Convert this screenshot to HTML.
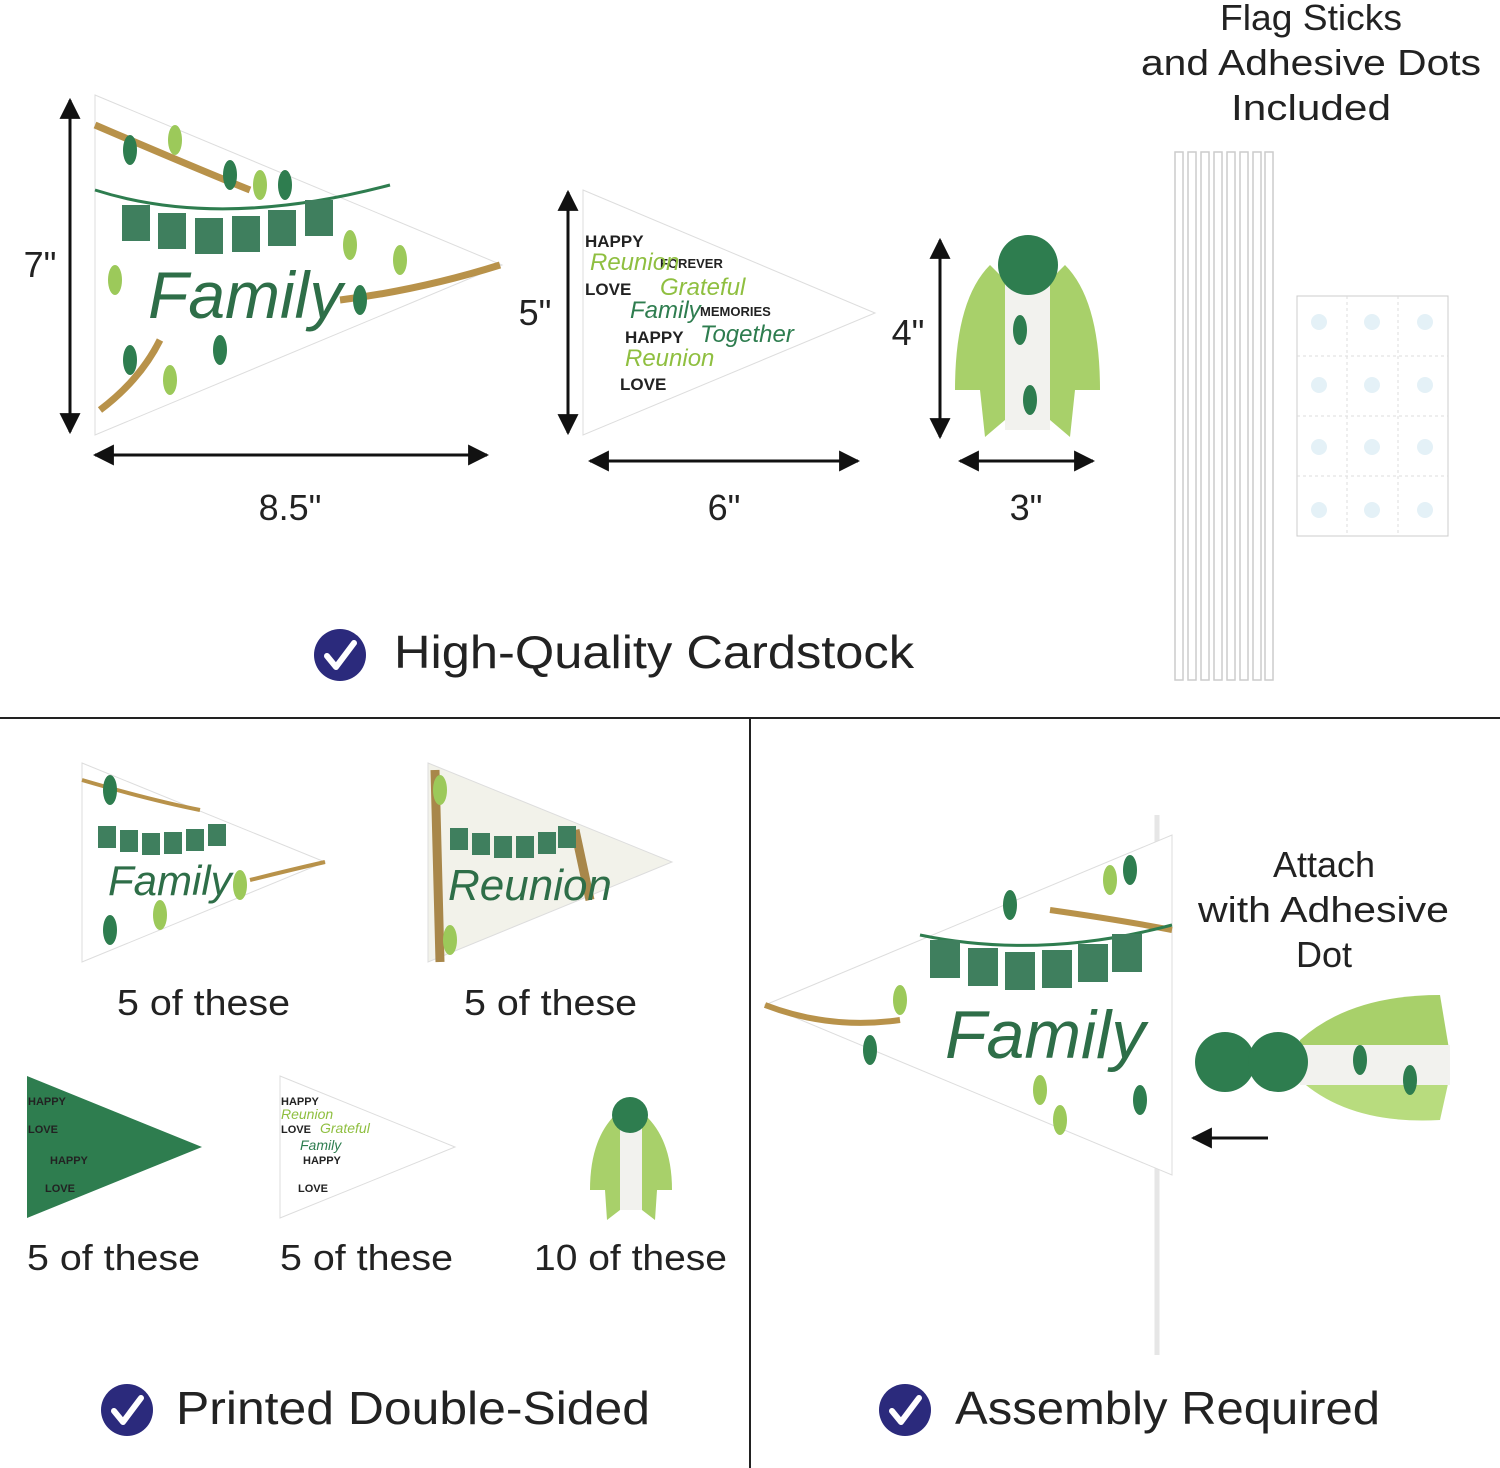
<!DOCTYPE html>
<html><head><meta charset="utf-8"><style>
html,body{margin:0;padding:0;background:#fff}
svg{display:block}
text{font-family:"Liberation Sans",sans-serif;fill:#222}
</style></head><body>
<svg width="1500" height="1468" viewBox="0 0 1500 1468" xmlns="http://www.w3.org/2000/svg">
<defs>
<marker id="ah" viewBox="0 0 10 10" refX="9" refY="5" markerWidth="7" markerHeight="7" orient="auto-start-reverse"><path d="M0,0 L10,5 L0,10 z" fill="#111"/></marker>
<g id="chk"><circle r="26" fill="#2b2a7c"/><path d="M-13,1 L-4,12 L14,-12" stroke="#fff" stroke-width="6" fill="none" stroke-linecap="round" stroke-linejoin="round"/></g>
<g id="leaf"><ellipse rx="7" ry="15" fill="#2e7d4f"/></g>
<g id="leaf2"><ellipse rx="7" ry="15" fill="#9cc95a"/></g>
</defs>
<rect width="1500" height="1468" fill="#fff"/>

<line x1="0" y1="718" x2="1500" y2="718" stroke="#222" stroke-width="2"/>
<line x1="750" y1="718" x2="750" y2="1468" stroke="#222" stroke-width="2"/>

<text x="1220" y="30" font-size="36" textLength="182" lengthAdjust="spacingAndGlyphs">Flag Sticks</text>
<text x="1141" y="75" font-size="36" textLength="340" lengthAdjust="spacingAndGlyphs">and Adhesive Dots</text>
<text x="1231" y="120" font-size="36" textLength="160" lengthAdjust="spacingAndGlyphs">Included</text>

<!-- pennant 1 -->
<polygon points="95,95 502,265 95,435" fill="#fff" stroke="#ddd"/>
<path d="M95,125 Q200,170 250,190 M340,300 Q420,290 500,265 M100,410 Q140,380 160,340" stroke="#b8924a" stroke-width="7" fill="none"/>
<path d="M95,190 Q220,230 390,185" stroke="#2e7d4f" stroke-width="3" fill="none"/>
<g fill="#3f7f5e"><rect x="122" y="205" width="28" height="36"/><rect x="158" y="213" width="28" height="36"/><rect x="195" y="218" width="28" height="36"/><rect x="232" y="216" width="28" height="36"/><rect x="268" y="210" width="28" height="36"/><rect x="305" y="200" width="28" height="36"/></g>
<text x="148" y="318" font-size="66" font-family="Liberation Serif" font-style="italic" style="fill:#2e6e48">Family</text>
<use href="#leaf" x="130" y="150"/><use href="#leaf2" x="175" y="140"/><use href="#leaf" x="230" y="175"/><use href="#leaf2" x="260" y="185"/><use href="#leaf" x="360" y="300"/><use href="#leaf2" x="400" y="260"/><use href="#leaf" x="130" y="360"/><use href="#leaf2" x="170" y="380"/><use href="#leaf" x="220" y="350"/><use href="#leaf2" x="115" y="280"/><use href="#leaf" x="285" y="185"/><use href="#leaf2" x="350" y="245"/>
<line x1="70" y1="100" x2="70" y2="432" stroke="#111" stroke-width="3" marker-start="url(#ah)" marker-end="url(#ah)"/>
<text x="40" y="277" font-size="36" text-anchor="middle">7"</text>
<line x1="95" y1="455" x2="487" y2="455" stroke="#111" stroke-width="3" marker-start="url(#ah)" marker-end="url(#ah)"/>
<text x="290" y="520" font-size="36" text-anchor="middle">8.5"</text>

<!-- pennant 2 -->
<polygon points="583,190 875,313 583,435" fill="#fff" stroke="#ddd"/>
<g font-size="17" font-weight="bold" style="fill:#222">
<text x="585" y="247">HAPPY</text><text x="585" y="295">LOVE</text><text x="660" y="268" font-size="13">FOREVER</text><text x="625" y="343">HAPPY</text><text x="620" y="390">LOVE</text><text x="700" y="316" font-size="13">MEMORIES</text></g>
<g font-family="Liberation Serif" font-style="italic" font-size="24">
<text x="590" y="270" style="fill:#8fbf40">Reunion</text><text x="660" y="295" style="fill:#8fbf40">Grateful</text><text x="630" y="318" style="fill:#2e7d4f">Family</text><text x="700" y="342" style="fill:#2e7d4f">Together</text><text x="625" y="366" style="fill:#8fbf40">Reunion</text></g>
<line x1="568" y1="192" x2="568" y2="433" stroke="#111" stroke-width="3" marker-start="url(#ah)" marker-end="url(#ah)"/>
<text x="535" y="325" font-size="36" text-anchor="middle">5"</text>
<line x1="590" y1="461" x2="858" y2="461" stroke="#111" stroke-width="3" marker-start="url(#ah)" marker-end="url(#ah)"/>
<text x="724" y="520" font-size="36" text-anchor="middle">6"</text>

<!-- tassel -->
<path d="M990,265 Q955,300 955,390 L980,390 L985,437 L1005,420 L1005,280 Z" fill="#a8d06a"/>
<path d="M1065,265 Q1100,300 1100,390 L1075,390 L1070,437 L1050,420 L1050,280 Z" fill="#a8d06a"/>
<rect x="1005" y="280" width="45" height="150" fill="#f2f2ee"/>
<use href="#leaf" x="1020" y="330"/><use href="#leaf" x="1030" y="400"/>
<circle cx="1028" cy="265" r="30" fill="#2e7d4f"/>
<line x1="940" y1="240" x2="940" y2="437" stroke="#111" stroke-width="3" marker-start="url(#ah)" marker-end="url(#ah)"/>
<text x="908" y="345" font-size="36" text-anchor="middle">4"</text>
<line x1="960" y1="461" x2="1093" y2="461" stroke="#111" stroke-width="3" marker-start="url(#ah)" marker-end="url(#ah)"/>
<text x="1026" y="520" font-size="36" text-anchor="middle">3"</text>

<g fill="#fff" stroke="#ccc" stroke-width="1.5">
<rect x="1175" y="152" width="8" height="528"/><rect x="1188" y="152" width="8" height="528"/><rect x="1201" y="152" width="8" height="528"/><rect x="1214" y="152" width="8" height="528"/><rect x="1227" y="152" width="8" height="528"/><rect x="1240" y="152" width="8" height="528"/><rect x="1253" y="152" width="8" height="528"/><rect x="1265" y="152" width="8" height="528"/></g>
<rect x="1297" y="296" width="151" height="240" fill="#fff" stroke="#ccc"/>
<g stroke="#ddd" stroke-dasharray="3,3"><line x1="1347" y1="296" x2="1347" y2="536"/><line x1="1398" y1="296" x2="1398" y2="536"/><line x1="1297" y1="356" x2="1448" y2="356"/><line x1="1297" y1="416" x2="1448" y2="416"/><line x1="1297" y1="476" x2="1448" y2="476"/></g>
<g fill="#e4f1f7"><circle cx="1319" cy="322" r="8"/><circle cx="1372" cy="322" r="8"/><circle cx="1425" cy="322" r="8"/><circle cx="1319" cy="385" r="8"/><circle cx="1372" cy="385" r="8"/><circle cx="1425" cy="385" r="8"/><circle cx="1319" cy="447" r="8"/><circle cx="1372" cy="447" r="8"/><circle cx="1425" cy="447" r="8"/><circle cx="1319" cy="510" r="8"/><circle cx="1372" cy="510" r="8"/><circle cx="1425" cy="510" r="8"/></g>

<use href="#chk" x="340" y="655"/>
<text x="394" y="668" font-size="46" textLength="520" lengthAdjust="spacingAndGlyphs">High-Quality Cardstock</text>

<!-- bottom left -->
<polygon points="82,763 325,862 82,962" fill="#fff" stroke="#ddd"/>
<path d="M82,780 Q150,800 200,810 M250,880 Q290,870 325,862" stroke="#b8924a" stroke-width="4" fill="none"/>
<g fill="#3f7f5e"><rect x="98" y="826" width="18" height="22"/><rect x="120" y="830" width="18" height="22"/><rect x="142" y="833" width="18" height="22"/><rect x="164" y="832" width="18" height="22"/><rect x="186" y="829" width="18" height="22"/><rect x="208" y="824" width="18" height="22"/></g>
<text x="108" y="895" font-size="42" font-family="Liberation Serif" font-style="italic" style="fill:#2e6e48">Family</text>
<use href="#leaf" x="110" y="790"/><use href="#leaf2" x="240" y="885"/><use href="#leaf" x="110" y="930"/><use href="#leaf2" x="160" y="915"/>
<text x="117" y="1015" font-size="36" textLength="173" lengthAdjust="spacingAndGlyphs">5 of these</text>

<polygon points="428,763 672,862 428,962" fill="#f2f2ea" stroke="#ddd"/>
<path d="M435,770 L440,962 M575,830 L590,900" stroke="#a8874a" stroke-width="9"/>
<g fill="#3f7f5e"><rect x="450" y="828" width="18" height="22"/><rect x="472" y="833" width="18" height="22"/><rect x="494" y="836" width="18" height="22"/><rect x="516" y="836" width="18" height="22"/><rect x="538" y="832" width="18" height="22"/><rect x="558" y="826" width="18" height="22"/></g>
<text x="448" y="900" font-size="44" font-family="Liberation Serif" font-style="italic" style="fill:#2e6e48">Reunion</text>
<use href="#leaf2" x="440" y="790"/><use href="#leaf2" x="450" y="940"/>
<text x="464" y="1015" font-size="36" textLength="173" lengthAdjust="spacingAndGlyphs">5 of these</text>

<polygon points="27,1076 202,1147 27,1218" fill="#2e7d4f"/>
<g font-size="11" font-weight="bold" style="fill:#fff"><text x="28" y="1105">HAPPY</text><text x="28" y="1133">LOVE</text><text x="50" y="1164">HAPPY</text><text x="45" y="1192">LOVE</text></g>
<text x="27" y="1270" font-size="36" textLength="173" lengthAdjust="spacingAndGlyphs">5 of these</text>

<polygon points="280,1076 455,1147 280,1218" fill="#fff" stroke="#ddd"/>
<g font-size="11" font-weight="bold" style="fill:#222"><text x="281" y="1105">HAPPY</text><text x="281" y="1133">LOVE</text><text x="303" y="1164">HAPPY</text><text x="298" y="1192">LOVE</text></g>
<g font-family="Liberation Serif" font-style="italic" font-size="14"><text x="281" y="1119" style="fill:#8fbf40">Reunion</text><text x="320" y="1133" style="fill:#8fbf40">Grateful</text><text x="300" y="1150" style="fill:#2e7d4f">Family</text></g>
<text x="280" y="1270" font-size="36" textLength="173" lengthAdjust="spacingAndGlyphs">5 of these</text>

<path d="M615,1115 Q590,1140 590,1190 L605,1190 L607,1220 L620,1210 L620,1120 Z" fill="#a8d06a"/>
<path d="M645,1115 Q672,1140 672,1190 L657,1190 L655,1220 L642,1210 L642,1120 Z" fill="#a8d06a"/>
<rect x="620" y="1120" width="22" height="90" fill="#f2f2ee"/>
<circle cx="630" cy="1115" r="18" fill="#2e7d4f"/>
<text x="534" y="1270" font-size="36" textLength="193" lengthAdjust="spacingAndGlyphs">10 of these</text>

<use href="#chk" x="127" y="1410"/>
<text x="176" y="1424" font-size="46" textLength="474" lengthAdjust="spacingAndGlyphs">Printed Double-Sided</text>

<!-- bottom right -->
<line x1="1157" y1="815" x2="1157" y2="1355" stroke="#e6e6e6" stroke-width="5"/>
<polygon points="765,1005 1172,835 1172,1175" fill="#fff" stroke="#ddd"/>
<path d="M765,1005 Q830,1030 900,1020 M1050,910 Q1120,920 1172,930" stroke="#b8924a" stroke-width="6" fill="none"/>
<path d="M920,935 Q1040,960 1172,925" stroke="#2e7d4f" stroke-width="3" fill="none"/>
<g fill="#3f7f5e"><rect x="930" y="940" width="30" height="38"/><rect x="968" y="948" width="30" height="38"/><rect x="1005" y="952" width="30" height="38"/><rect x="1042" y="950" width="30" height="38"/><rect x="1078" y="944" width="30" height="38"/><rect x="1112" y="934" width="30" height="38"/></g>
<text x="945" y="1058" font-size="68" font-family="Liberation Serif" font-style="italic" style="fill:#2e6e48">Family</text>
<use href="#leaf" x="1010" y="905"/><use href="#leaf2" x="1110" y="880"/><use href="#leaf" x="870" y="1050"/><use href="#leaf2" x="1060" y="1120"/><use href="#leaf" x="1140" y="1100"/><use href="#leaf2" x="900" y="1000"/><use href="#leaf" x="1130" y="870"/><use href="#leaf2" x="1040" y="1090"/>

<text x="1324" y="877" font-size="36" text-anchor="middle">Attach</text>
<text x="1198" y="922" font-size="36" textLength="251" lengthAdjust="spacingAndGlyphs">with Adhesive</text>
<text x="1324" y="967" font-size="36" text-anchor="middle">Dot</text>

<path d="M1300,1040 Q1350,995 1440,995 L1450,1055 L1300,1075 Z" fill="#a8d06a"/>
<path d="M1300,1080 Q1350,1125 1440,1120 L1450,1075 L1300,1060 Z" fill="#b8dc7e"/>
<rect x="1300" y="1045" width="150" height="40" fill="#f2f2ee"/>
<use href="#leaf" x="1360" y="1060"/><use href="#leaf" x="1410" y="1080"/>
<circle cx="1225" cy="1062" r="30" fill="#2e7d4f"/>
<circle cx="1278" cy="1062" r="30" fill="#2e7d4f"/>
<line x1="1268" y1="1138" x2="1193" y2="1138" stroke="#111" stroke-width="3" marker-end="url(#ah)"/>

<use href="#chk" x="905" y="1410"/>
<text x="955" y="1424" font-size="46" textLength="425" lengthAdjust="spacingAndGlyphs">Assembly Required</text>
</svg>
</body></html>
